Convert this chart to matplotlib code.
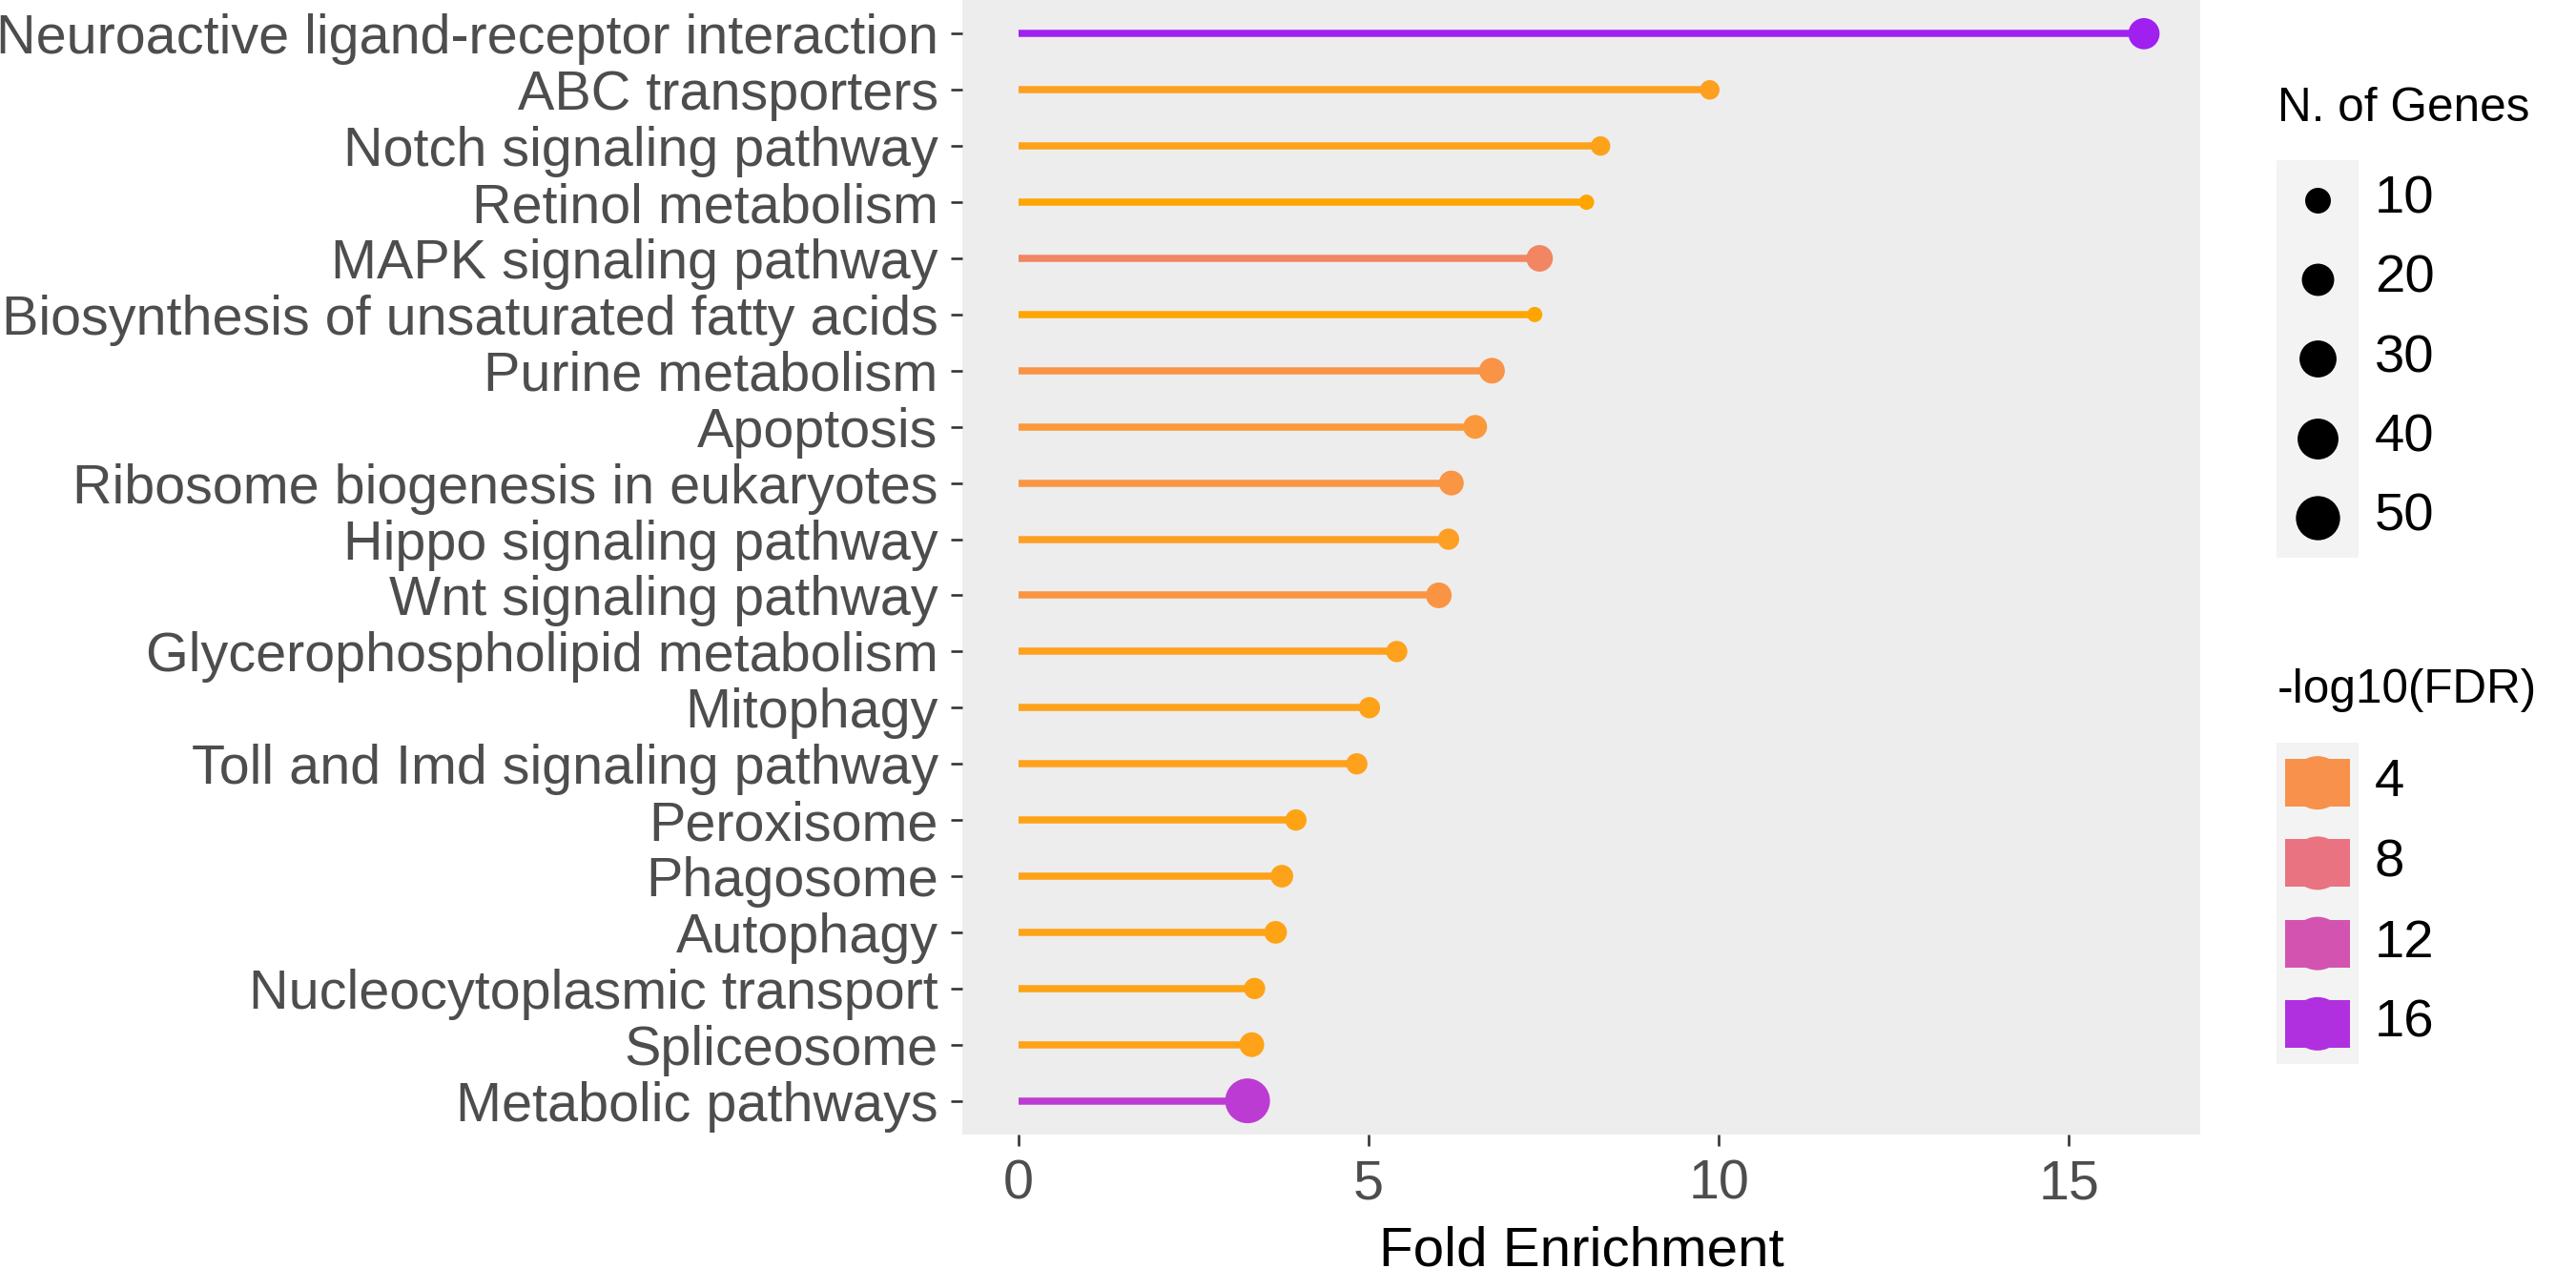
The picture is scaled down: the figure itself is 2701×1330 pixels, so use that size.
import numpy as np
import matplotlib
matplotlib.use("Agg")
import matplotlib.pyplot as plt
from matplotlib.colors import ListedColormap, Normalize
from matplotlib.patches import Rectangle, Circle

# ---------------- data ----------------
pathways = [
    "Neuroactive ligand-receptor interaction",
    "ABC transporters",
    "Notch signaling pathway",
    "Retinol metabolism",
    "MAPK signaling pathway",
    "Biosynthesis of unsaturated fatty acids",
    "Purine metabolism",
    "Apoptosis",
    "Ribosome biogenesis in eukaryotes",
    "Hippo signaling pathway",
    "Wnt signaling pathway",
    "Glycerophospholipid metabolism",
    "Mitophagy",
    "Toll and Imd signaling pathway",
    "Peroxisome",
    "Phagosome",
    "Autophagy",
    "Nucleocytoplasmic transport",
    "Spliceosome",
    "Metabolic pathways",
]
fold_enrichment = [16.07, 9.87, 8.31, 8.11, 7.44, 7.37, 6.76, 6.52, 6.18, 6.14,
                   6.00, 5.40, 5.01, 4.83, 3.96, 3.76, 3.67, 3.37, 3.33, 3.27]
n_genes = [18, 5, 5, 4, 11, 4, 10, 8, 9, 6, 10, 6, 6, 6, 6, 7, 7, 6, 9, 52]
neg_log10_fdr = [17.45, 1.9, 1.7, 1.24, 5.6, 1.3, 3.7, 3.0, 3.5, 2.0,
                 3.4, 1.8, 1.7, 1.8, 1.6, 1.7, 1.6, 1.6, 1.7, 14.8]

x_ticks = [0, 5, 10, 15]
size_legend_values = [10, 20, 30, 40, 50]
color_legend_values = [4, 8, 12, 16]
x_title = "Fold Enrichment"
size_title = "N. of Genes"
color_title = "-log10(FDR)"

# ---------------- style ----------------
plt.rcParams['font.family'] = ['Liberation Sans', 'DejaVu Sans']
DPI = 300
W, H = 2701, 1330
PX = 72.0 / DPI  # points per pixel

# Lab-space gradient orange -> purple (like ggplot scale_colour_gradient)
def srgb_to_lab(rgb):
    c = np.asarray(rgb, float)
    lin = np.where(c <= 0.04045, c / 12.92, ((c + 0.055) / 1.055) ** 2.4)
    M = np.array([[0.4124564, 0.3575761, 0.1804375],
                  [0.2126729, 0.7151522, 0.0721750],
                  [0.0193339, 0.1191920, 0.9503041]])
    xyz = M @ lin / np.array([0.95047, 1.0, 1.08883])
    d = 6 / 29
    f = np.where(xyz > d ** 3, np.cbrt(xyz), xyz / (3 * d * d) + 4 / 29)
    return np.array([116 * f[1] - 16, 500 * (f[0] - f[1]), 200 * (f[1] - f[2])])

def lab_to_srgb(lab):
    L, a, b = lab
    fy = (L + 16) / 116
    fx = fy + a / 500
    fz = fy - b / 200
    d = 6 / 29
    f = np.array([fx, fy, fz])
    xyz = np.where(f > d, f ** 3, 3 * d * d * (f - 4 / 29)) * np.array([0.95047, 1.0, 1.08883])
    Minv = np.array([[3.2404542, -1.5371385, -0.4985314],
                     [-0.9692660, 1.8760108, 0.0415560],
                     [0.0556434, -0.2040259, 1.0572252]])
    lin = np.clip(Minv @ xyz, 0, 1)
    c = np.where(lin <= 0.0031308, 12.92 * lin, 1.055 * lin ** (1 / 2.4) - 0.055)
    return np.clip(c, 0, 1)

low_lab = srgb_to_lab([1.0, 165 / 255, 0.0])              # orange
high_lab = srgb_to_lab([160 / 255, 32 / 255, 240 / 255])  # purple
grad = [lab_to_srgb(low_lab + t * (high_lab - low_lab)) for t in np.linspace(0, 1, 256)]
cmap = ListedColormap(grad)
norm = Normalize(vmin=min(neg_log10_fdr), vmax=max(neg_log10_fdr))

# size scale (area-like, as in ggplot scale_size)
n_min, n_max = min(n_genes), max(n_genes)
def diameter_px(n):
    n = np.asarray(n, float)
    return 16 + 31 * np.sqrt(np.clip((n - n_min) / (n_max - n_min), 0, 1))

def marker_area(n):
    return (diameter_px(n) * PX) ** 2

# ---------------- figure ----------------
fig = plt.figure(figsize=(W / DPI, H / DPI), dpi=DPI)
fig.patch.set_facecolor('white')

p_left, p_right, p_top, p_bottom = 1009, 2307, 0, 1190
ax = fig.add_axes([p_left / W, 1 - p_bottom / H, (p_right - p_left) / W, (p_bottom - p_top) / H])
ax.set_facecolor('#EDEDED')
for s in ax.spines.values():
    s.set_visible(False)

ypos = np.arange(len(pathways))
colors = cmap(norm(np.array(neg_log10_fdr)))

ax.hlines(ypos, 0, fold_enrichment, colors=colors, linewidth=7.5 * PX,
          capstyle='butt', zorder=2)
ax.scatter(fold_enrichment, ypos, s=marker_area(n_genes), c=colors,
           linewidths=0, zorder=3)

xmax = max(fold_enrichment)
ax.set_xlim(-0.05 * xmax, 1.05 * xmax)
ax.set_ylim(len(pathways) - 1 + 0.6, -0.6)
ax.set_xticks(x_ticks)
ax.set_xticklabels([str(t) for t in x_ticks])
ax.set_yticks(ypos)
ax.set_yticklabels(pathways)
ax.tick_params(axis='both', length=12 * PX, width=2.6 * PX, color='#333333',
               labelcolor='#4D4D4D', labelsize=13.8, pad=3.2)
ax.set_xlabel(x_title, fontsize=14, color='black')
ax.xaxis.label.set_va('baseline')
ax.xaxis.set_label_coords(0.5, (p_bottom - 1327) / (p_bottom - p_top))

# ---------------- legends (overlay in pixel coordinates) ----------------
lax = fig.add_axes([0, 0, 1, 1])
lax.set_xlim(0, W)
lax.set_ylim(H, 0)
lax.set_axis_off()
lax.patch.set_alpha(0)

leg_x = 2387
key_w = 86
label_x = 2490
key_bg = '#F3F3F3'
title_fs = 11.9
label_fs = 13.5

# size legend
lax.text(leg_x + 1, 114, size_title, fontsize=title_fs, color='black', va='center', ha='left')
s_top, s_step = 168, 83.3
lax.add_patch(Rectangle((leg_x, s_top), key_w, s_step * len(size_legend_values),
                        facecolor=key_bg, edgecolor='none'))
for i, v in enumerate(size_legend_values):
    cy = s_top + s_step * (i + 0.5)
    lax.scatter([leg_x + key_w / 2], [cy], s=marker_area(v), c='black', linewidths=0)
    lax.text(label_x, cy, str(v), fontsize=label_fs, color='black', va='center', ha='left')

# colour legend
lax.text(leg_x + 1, 724, color_title, fontsize=title_fs, color='black', va='center', ha='left')
c_top, c_step = 779, 84.25
lax.add_patch(Rectangle((leg_x, c_top), key_w, c_step * len(color_legend_values),
                        facecolor=key_bg, edgecolor='none'))
for i, v in enumerate(color_legend_values):
    cy = c_top + c_step * (i + 0.5)
    col = cmap(norm(v))
    cx = leg_x + key_w / 2
    lax.add_patch(Rectangle((cx - 34, cy - 25), 68, 50, facecolor=col, edgecolor='none'))
    lax.add_patch(Circle((cx, cy), 28, facecolor=col, edgecolor='none'))
    lax.text(label_x, cy, str(v), fontsize=label_fs, color='black', va='center', ha='left')

fig.savefig('out.png', dpi=DPI, facecolor='white')
